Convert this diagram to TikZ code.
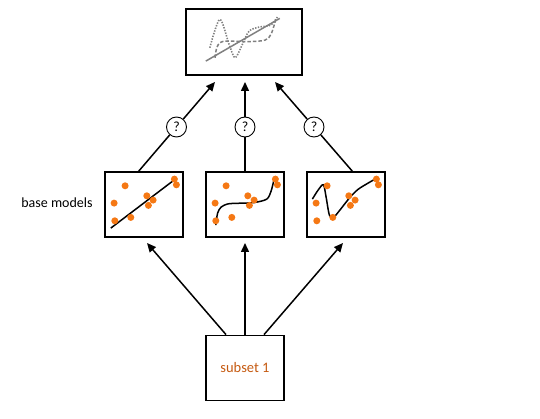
\documentclass[tikz,border=0pt]{standalone}
\usepackage{fontspec}
\setmainfont{Carlito}
\usepackage{tikz}
\usetikzlibrary{positioning, arrows.meta, shapes, calc}
\definecolor{naranja}{RGB}{245, 120, 20}
\definecolor{oscuro}{RGB}{197, 90, 17}
\definecolor{gris}{RGB}{128, 128, 128}
\tikzset{
    caja/.style={draw, rectangle, line width=1.8pt, minimum width=78pt, minimum height=65pt, inner sep=0pt},
    grande/.style={draw, rectangle, line width=1.8pt, minimum width=116pt, minimum height=66pt, inner sep=0pt},
    preg/.style={draw, circle, line width=0.9pt, fill=white, minimum size=20pt, inner sep=0pt, font=\fontsize{14}{16}\selectfont},
    conn/.style={-{Triangle[length=9pt, width=8pt]}, line width=1.5pt},
    punto/.style={fill=naranja},
    ajuste/.style={line width=1.5pt},
}
\newcommand{\puntos}{%
    \foreach \px/\py in {21/14.7, 10/32, 10.7/49.7, 26.7/46.3, 42.7/24.7, 49/29, 44.3/34.3, 70.3/8, 72.3/13.7}
        \fill[punto] (\px,\py) circle (3.5pt);
}

\begin{document}
\begin{tikzpicture}[x=1pt, y=-1pt]
        \useasboundingbox (0,0) rectangle (540,419);

        \node [grande] (top) at (244,42) {};
        \node [caja] (b1) at (144,204.5) {};
        \node [caja] (b2) at (245,204.5) {};
        \node [caja] (b3) at (346,204.5) {};
        \node [caja] (sub) at (245,368) {\textcolor{oscuro}{\fontsize{14.5}{16}\selectfont subset 1}};

        \node (lbl) at (57,203) {\fontsize{14}{16}\selectfont base models};

        % ajustes del modelo final
        \begin{scope}[shift={(top.north west)}]
            \draw[gris, line width=1.5pt] (20.7,53) -- (94.7,10.3);
            \draw[gris, line width=1.6pt, dash pattern=on 1.4pt off 1.4pt] plot[smooth] coordinates
                {(24.7,39.7) (34.7,11.3) (44,36.3) (50,49.7) (57.3,36.3) (64,23) (74,19) (85.7,17) (92.3,9)};
            \draw[gris, line width=1.5pt, dash pattern=on 3.5pt off 2pt] plot[smooth] coordinates
                {(30,49.7) (31.5,40) (35,34.5) (42,33) (64,33.5) (80,32) (86,26) (90.7,11.3)};
        \end{scope}

        % modelos base
        \begin{scope}[shift={(b1.north west)}]
            \draw[ajuste] (6.7,57) -- (69,9.7);
            \puntos
        \end{scope}
        \begin{scope}[shift={(b2.north west)}]
            \draw[ajuste] plot[smooth] coordinates
                {(10.7,54) (12.5,42) (16,36) (22,33) (28.3,32.3) (40,32) (50,31.3) (61.7,28) (66,20) (69,8)};
            \puntos
        \end{scope}
        \begin{scope}[shift={(b3.north west)}]
            \draw[ajuste] plot[smooth] coordinates
                {(6.3,28) (12,19) (17.3,13.7) (20,26) (23.3,44) (27.3,46.3) (33,40) (39,32.3) (45,25) (52.3,18) (62,12) (70.7,7)};
            \puntos
        \end{scope}

        \coordinate (t1) at (215,82);
        \coordinate (t2) at (245,82);
        \coordinate (t3) at (275,82);
        \coordinate (s1) at (138,172);
        \coordinate (s3) at (353,172);
        \coordinate (e1) at (147,243);
        \coordinate (e2) at (245,243);
        \coordinate (e3) at (343,243);

        \node [preg] (q1) at ($(s1)!0.5!(t1)$) {?};
        \node [preg] (q2) at (245,127) {?};
        \node [preg] (q3) at ($(s3)!0.5!(t3)$) {?};

        \draw[line width=1.5pt] (s1) -- (q1);
        \draw[line width=1.5pt] (b2.north) -- (q2);
        \draw[line width=1.5pt] (s3) -- (q3);
        \draw[conn] (q1) -- (t1);
        \draw[conn] (q2) -- (t2);
        \draw[conn] (q3) -- (t3);

        \draw[conn] ([xshift=-19pt]sub.north) -- (e1);
        \draw[conn] (sub.north) -- (e2);
        \draw[conn] ([xshift=19pt]sub.north) -- (e3);
\end{tikzpicture}
\end{document}
